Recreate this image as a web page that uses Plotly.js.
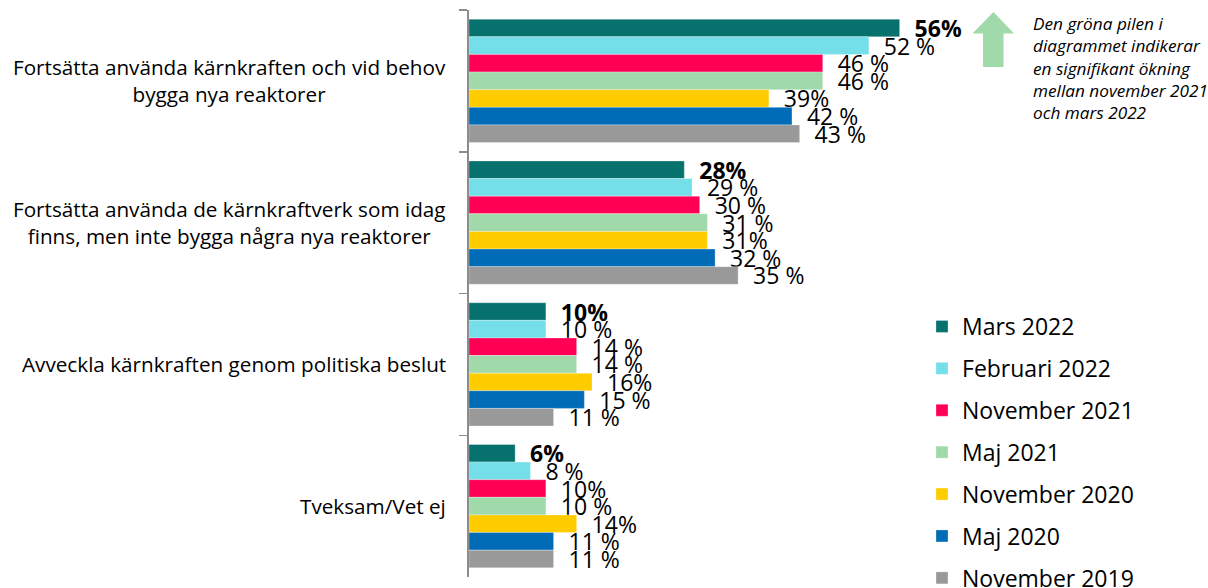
<!DOCTYPE html>
<html><head><meta charset="utf-8">
<script src="https://cdn.plot.ly/plotly-3.0.1.min.js"></script>
<style>html,body{margin:0;padding:0;background:#fff}#chart{width:1208px;height:588px}</style>
</head><body><div id="chart"></div>
<script>
// Categories (top to bottom)
const categories = [
  'Fortsätta använda kärnkraften och vid behov<br>bygga nya reaktorer',
  'Fortsätta använda de kärnkraftverk som idag<br>finns, men inte bygga några nya reaktorer',
  'Avveckla kärnkraften genom politiska beslut',
  'Tveksam/Vet ej'
];

// Series names
const seriesNames = ['Mars 2022','Februari 2022','November 2021','Maj 2021','November 2020','Maj 2020','November 2019'];

// Values (%)
const mars2022  = [56, 28, 10, 6];
const feb2022   = [52, 29, 10, 8];
const nov2021   = [46, 30, 14, 10];
const maj2021   = [46, 31, 14, 10];
const nov2020   = [39, 31, 16, 14];
const maj2020   = [42, 32, 15, 11];
const nov2019   = [43, 35, 11, 11];

// Data labels as shown
const lblMars2022 = ['56%', '28%', '10%', '6%'];
const lblFeb2022  = ['52 %', '29 %', '10 %', '8 %'];
const lblNov2021  = ['46 %', '30 %', '14 %', '10%'];
const lblMaj2021  = ['46 %', '31 %', '14 %', '10 %'];
const lblNov2020  = ['39%', '31%', '16%', '14%'];
const lblMaj2020  = ['42 %', '32 %', '15 %', '11 %'];
const lblNov2019  = ['43 %', '35 %', '11 %', '11 %'];

const noteText = 'Den gröna pilen i<br>diagrammet indikerar<br>en signifikant ökning<br>mellan november 2021<br>och mars 2022';

const colors = ['#07716D', '#74DEE9', '#FF0055', '#A0D9AA', '#FFCC00', '#006BB6', '#999999'];
const values = [mars2022, feb2022, nov2021, maj2021, nov2020, maj2020, nov2019];
const labels = [lblMars2022, lblFeb2022, lblNov2021, lblMaj2021, lblNov2020, lblMaj2020, lblNov2019];

const FONT = '"Open Sans", Carlito, Calibri, sans-serif';

const traces = seriesNames.map((name, i) => ({
  type: 'bar',
  orientation: 'h',
  name: name,
  legendgroup: 'g' + i,
  y: categories,
  x: values[i],
  text: labels[i],
  texttemplate: '\u00a0\u00a0%{text}',
  textposition: 'outside',
  constraintext: 'none',
  cliponaxis: false,
  outsidetextfont: {family: FONT, size: 23, color: '#000', weight: i === 0 ? 'bold' : 'normal'},
  marker: {color: colors[i], line: {color: 'rgba(255,255,255,0.6)', width: 0.5}},
  hoverinfo: 'skip'
}));

// plot geometry helpers for decorations (pixel -> paper)
const L = 469, R = 0, T = 10, B = 11, W = 1208, H = 588;
const pw = W - L - R, ph = H - T - B;
const px = x => ((x - L) / pw).toFixed(4);
const py = y => ((H - B - y) / ph).toFixed(4);
const arrowPath = 'M' + px(993.5) + ',' + py(12) +
  ' L' + px(1014) + ',' + py(33.5) +
  ' L' + px(1003.5) + ',' + py(33.5) +
  ' L' + px(1003.5) + ',' + py(67) +
  ' L' + px(983) + ',' + py(67) +
  ' L' + px(983) + ',' + py(33.5) +
  ' L' + px(972.5) + ',' + py(33.5) + ' Z';

const annotations = categories.map(c => ({
  xref: 'paper', yref: 'y', x: 0, y: c,
  xanchor: 'right', yanchor: 'middle', xshift: -21,
  text: c, showarrow: false, align: 'center',
  font: {family: FONT, size: 20.7, color: '#000'}
}));
annotations.push({
  xref: 'paper', yref: 'paper', x: +px(1031), y: +py(10),
  xanchor: 'left', yanchor: 'top', align: 'left', showarrow: false,
  text: noteText,
  font: {family: FONT, size: 17.2, color: '#000', style: 'italic'}
});

const layout = {
  width: W, height: H,
  margin: {l: L, r: R, t: T, b: B, autoexpand: false},
  paper_bgcolor: '#fff', plot_bgcolor: '#fff',
  barmode: 'group', bargap: 0.13, bargroupgap: 0,
  showlegend: true,
  legend: {
    x: +px(922), y: +py(305), xanchor: 'left', yanchor: 'top',
    font: {family: FONT, size: 23, color: '#000'},
    tracegroupgap: 9, traceorder: 'grouped',
    bgcolor: 'rgba(0,0,0,0)'
  },
  xaxis: {range: [0, pw / 7.69], visible: false, fixedrange: true},
  yaxis: {
    type: 'category', autorange: 'reversed',
    showticklabels: false, showgrid: false, zeroline: false,
    showline: true, linecolor: '#8c8c8c', linewidth: 2,
    ticks: 'outside', tickson: 'boundaries', ticklen: 8, tickcolor: '#8c8c8c', tickwidth: 1.5
  },
  shapes: [{type: 'path', xref: 'paper', yref: 'paper', path: arrowPath,
    fillcolor: '#A0D9AA', line: {width: 0}}],
  annotations: annotations
};

Plotly.newPlot('chart', traces, layout, {displayModeBar: false, staticPlot: true});
</script>
</body></html>
